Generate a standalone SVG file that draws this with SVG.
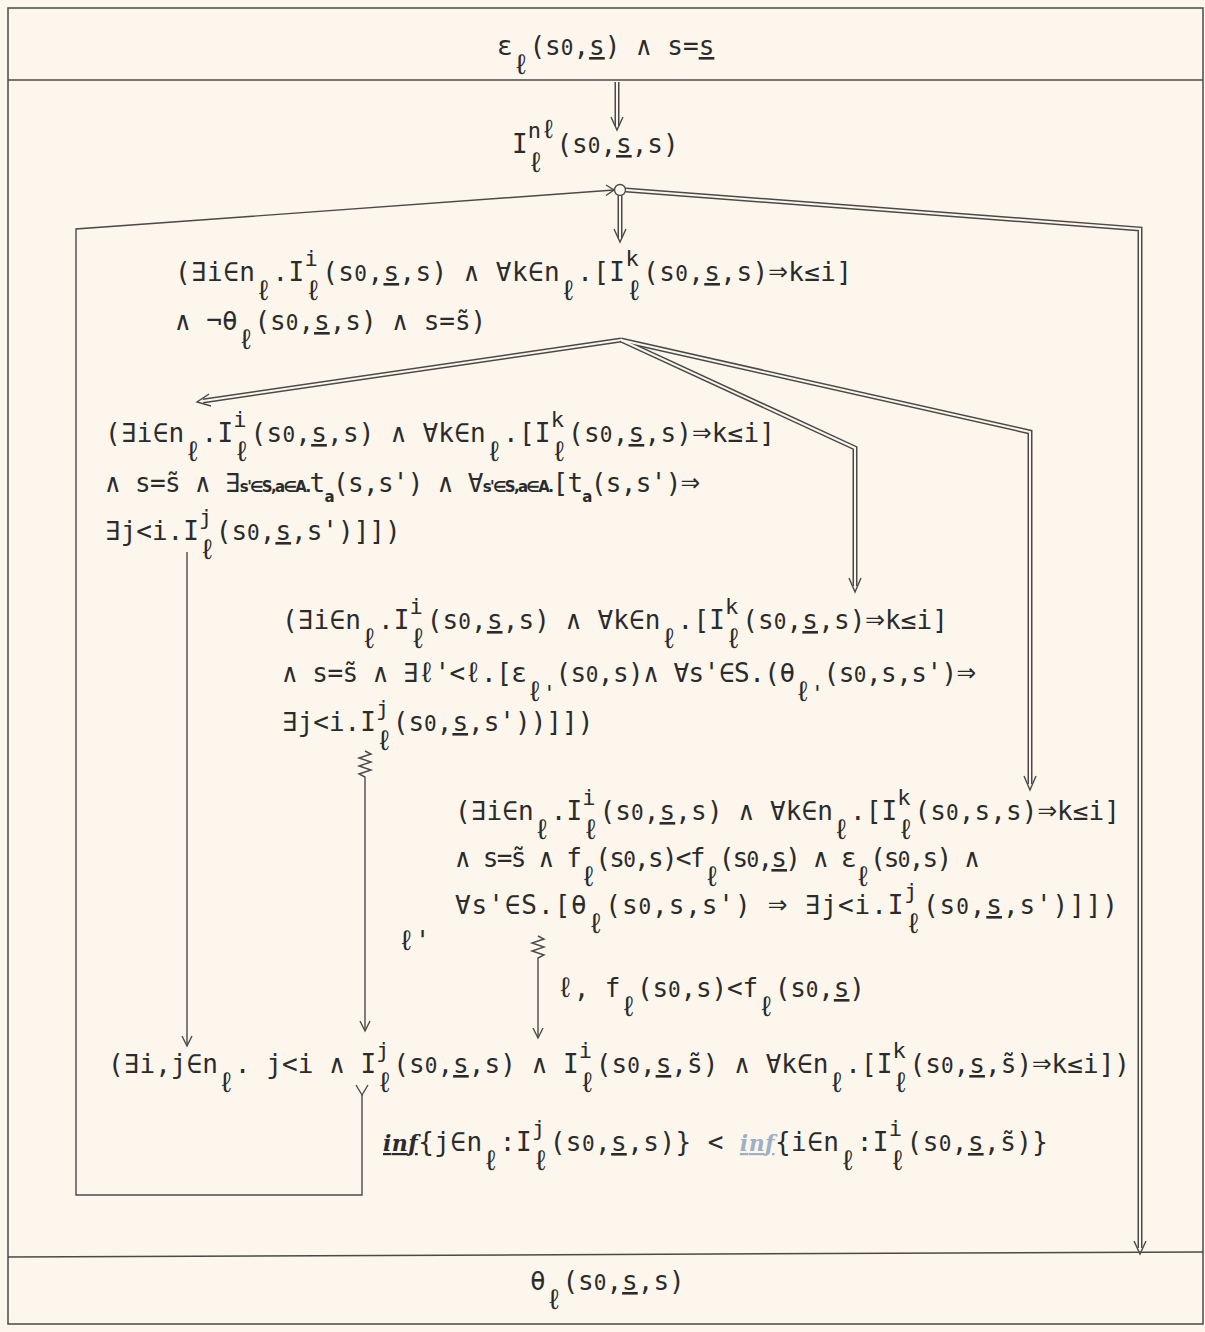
<svg xmlns="http://www.w3.org/2000/svg" width="1205" height="1332" viewBox="0 0 1205 1332">
<style>
.t{font-family:"DejaVu Sans Mono","Liberation Mono",monospace;font-size:26px;fill:#2b2b2b}
.s{font-size:22px}
.l{font-size:28px}
.z{font-size:21px}
.ar{font-size:32px}
.u{text-decoration:underline}
.h{font-family:"DejaVu Sans",sans-serif;font-weight:bold;font-size:15px;letter-spacing:-1px}
.h2{font-family:"DejaVu Serif",serif;font-style:italic;font-weight:bold;font-size:22px;text-decoration:underline}
.f{fill:#9db0c4}
.ln{fill:none;stroke:#4a4a4a;stroke-width:1.4}
.dbo{fill:none;stroke:#4a4a4a;stroke-width:5;stroke-linejoin:miter}
.dbi{fill:none;stroke:#fcf6ec;stroke-width:2;stroke-linejoin:miter}
.hd{fill:none;stroke:#4a4a4a;stroke-width:1.4;stroke-linejoin:miter}
</style>
<rect width="1205" height="1332" fill="#fcf6ec"/>
<g id="frame">
<rect x="8" y="8" width="1195" height="1316" fill="none" stroke="#4a4a4a" stroke-width="1.5"/>
<line x1="8" y1="80" x2="1203" y2="80" stroke="#4a4a4a" stroke-width="1.5"/>
<line x1="8" y1="1257" x2="1203" y2="1252" stroke="#4a4a4a" stroke-width="1.5"/>
</g>
<g id="connectors">
<path class="dbo" d="M617,82 V126"/><path class="dbi" d="M617,82 V126"/>
<path class="hd" d="M611,117 L617,130 L623,117"/>
<circle cx="620" cy="190" r="5.5" fill="#fcf6ec" stroke="#4a4a4a" stroke-width="1.4"/>
<polyline class="ln" points="614,190 76,229 76,1195 362,1195 362,1095"/>
<path class="hd" d="M606,185 L614,190 L606,195.5"/>
<path class="hd" d="M356,1085 L362,1095 L368,1085"/>
<polyline class="dbo" points="626,190 1140,229 1140,1248"/><polyline class="dbi" points="626,190 1140,229 1140,1248"/>
<path class="hd" d="M1134,1241 L1140,1254 L1146,1241"/>
<path class="dbo" d="M620,196 V238"/><path class="dbi" d="M620,196 V238"/>
<path class="hd" d="M614,229 L620,242 L626,229"/>
<polyline class="dbo" points="621,340 203,401"/><polyline class="dbi" points="621,340 203,401"/>
<path class="hd" d="M209,394 L197,402 L211,406"/>
<polyline class="dbo" points="621,340 855,448 855,586"/>
<polyline class="dbo" points="621,340 1030,432 1030,784"/>
<polyline class="dbi" points="621,340 855,448 855,586"/>
<polyline class="dbi" points="621,340 1030,432 1030,784"/>
<path class="hd" d="M849,578 L855,592 L861,578"/>
<path class="hd" d="M1024,776 L1030,790 L1036,776"/>
<path class="ln" d="M187,552 V1045"/>
<path class="hd" d="M182,1036 L187,1046 L192,1036"/>
<path class="ln" d="M365,751 l6,3 l-12,4 l12,4 l-12,4 l12,4 l-12,4 l6,3 V1030"/>
<path class="hd" d="M360,1021 L365,1031 L370,1021"/>
<path class="ln" d="M538,936 l6,3 l-12,4 l12,4 l-12,4 l12,4 l-6,3 V1037"/>
<path class="hd" d="M533,1028 L538,1038 L543,1028"/>
<text class="t" x="398" y="950"><tspan class="l">ℓ</tspan>'</text>
<text class="t" x="557" y="997" textLength="308" lengthAdjust="spacing"><tspan class="l">ℓ</tspan>, f<tspan class="l" dy="19">ℓ</tspan><tspan dy="-19">(s<tspan class="z">0</tspan>,s)&lt;f</tspan><tspan class="l" dy="19">ℓ</tspan><tspan dy="-19">(s<tspan class="z">0</tspan>,<tspan class="u">s</tspan>)</tspan></text>
<text class="t" x="383" y="1151" textLength="665" lengthAdjust="spacing"><tspan class="h2">inf</tspan>{j∈n<tspan class="l" dy="19">ℓ</tspan><tspan dy="-19">:I</tspan><tspan class="s" dy="-15">j</tspan><tspan class="l" dx="-13.2" dy="34">ℓ</tspan><tspan dy="-19">(s<tspan class="z">0</tspan>,<tspan class="u">s</tspan>,s)} &lt; <tspan class="h2 f">inf</tspan>{i∈n</tspan><tspan class="l" dy="19">ℓ</tspan><tspan dy="-19">:I</tspan><tspan class="s" dy="-15">i</tspan><tspan class="l" dx="-13.2" dy="34">ℓ</tspan><tspan dy="-19">(s<tspan class="z">0</tspan>,<tspan class="u">s</tspan>,s̃)}</tspan></text>
</g>
<g id="n-start">
<text class="t" x="497" y="55">ε<tspan class="l" dy="19">ℓ</tspan><tspan dy="-19">(s<tspan class="z">0</tspan>,<tspan class="u">s</tspan>) ∧ s=<tspan class="u">s</tspan></tspan></text>
</g>
<g id="n-invariant">
<text class="t" x="512" y="153">I<tspan class="s" dy="-15">n</tspan><tspan style="font-size:26px">ℓ</tspan><tspan class="l" dx="-28.9" dy="34">ℓ</tspan><tspan dy="-19" dx="12">(s<tspan class="z">0</tspan>,<tspan class="u">s</tspan>,s)</tspan></text>
</g>
<g id="n-f1">
<text class="t" x="175" y="281" textLength="677" lengthAdjust="spacing">(∃i∈n<tspan class="l" dy="19">ℓ</tspan><tspan dy="-19">.I</tspan><tspan class="s" dy="-15">i</tspan><tspan class="l" dx="-13.2" dy="34">ℓ</tspan><tspan dy="-19">(s<tspan class="z">0</tspan>,<tspan class="u">s</tspan>,s) ∧ ∀k∈n</tspan><tspan class="l" dy="19">ℓ</tspan><tspan dy="-19">.[I</tspan><tspan class="s" dy="-15">k</tspan><tspan class="l" dx="-13.2" dy="34">ℓ</tspan><tspan dy="-19">(s<tspan class="z">0</tspan>,<tspan class="u">s</tspan>,s)<tspan class="ar">⇒</tspan>k≤i]</tspan></text>
<text class="t" x="175" y="330">∧ ¬θ<tspan class="l" dy="19">ℓ</tspan><tspan dy="-19">(s<tspan class="z">0</tspan>,<tspan class="u">s</tspan>,s) ∧ s=s̃)</tspan></text>
</g>
<g id="n-f2">
<text class="t" x="105" y="442" textLength="670" lengthAdjust="spacing">(∃i∈n<tspan class="l" dy="19">ℓ</tspan><tspan dy="-19">.I</tspan><tspan class="s" dy="-15">i</tspan><tspan class="l" dx="-13.2" dy="34">ℓ</tspan><tspan dy="-19">(s<tspan class="z">0</tspan>,<tspan class="u">s</tspan>,s) ∧ ∀k∈n</tspan><tspan class="l" dy="19">ℓ</tspan><tspan dy="-19">.[I</tspan><tspan class="s" dy="-15">k</tspan><tspan class="l" dx="-13.2" dy="34">ℓ</tspan><tspan dy="-19">(s<tspan class="z">0</tspan>,<tspan class="u">s</tspan>,s)<tspan class="ar">⇒</tspan>k≤i]</tspan></text>
<text class="t" x="105" y="492" textLength="595" lengthAdjust="spacing">∧ s=s̃ ∧ ∃<tspan class="h">s'∈S,a∈A.</tspan>t<tspan class="h" dy="10">a</tspan><tspan dy="-10">(s,s') ∧ ∀</tspan><tspan class="h">s'∈S,a∈A.</tspan>[t<tspan class="h" dy="10">a</tspan><tspan dy="-10">(s,s')<tspan class="ar">⇒</tspan></tspan></text>
<text class="t" x="105" y="540">∃j&lt;i.I<tspan class="s" dy="-15">j</tspan><tspan class="l" dx="-13.2" dy="34">ℓ</tspan><tspan dy="-19">(s<tspan class="z">0</tspan>,<tspan class="u">s</tspan>,s')]])</tspan></text>
</g>
<g id="n-f3">
<text class="t" x="282" y="629" textLength="666" lengthAdjust="spacing">(∃i∈n<tspan class="l" dy="19">ℓ</tspan><tspan dy="-19">.I</tspan><tspan class="s" dy="-15">i</tspan><tspan class="l" dx="-13.2" dy="34">ℓ</tspan><tspan dy="-19">(s<tspan class="z">0</tspan>,<tspan class="u">s</tspan>,s) ∧ ∀k∈n</tspan><tspan class="l" dy="19">ℓ</tspan><tspan dy="-19">.[I</tspan><tspan class="s" dy="-15">k</tspan><tspan class="l" dx="-13.2" dy="34">ℓ</tspan><tspan dy="-19">(s<tspan class="z">0</tspan>,<tspan class="u">s</tspan>,s)<tspan class="ar">⇒</tspan>k≤i]</tspan></text>
<text class="t" x="282" y="682" textLength="694" lengthAdjust="spacing">∧ s=s̃ ∧ ∃<tspan class="l">ℓ</tspan>'&lt;<tspan class="l">ℓ</tspan>.[ε<tspan class="l" dy="19">ℓ</tspan><tspan class="s">'</tspan><tspan dy="-19">(s<tspan class="z">0</tspan>,s)∧ ∀s'∈S.(θ</tspan><tspan class="l" dy="19">ℓ</tspan><tspan class="s">'</tspan><tspan dy="-19">(s<tspan class="z">0</tspan>,s,s')<tspan class="ar">⇒</tspan></tspan></text>
<text class="t" x="282" y="731">∃j&lt;i.I<tspan class="s" dy="-15">j</tspan><tspan class="l" dx="-13.2" dy="34">ℓ</tspan><tspan dy="-19">(s<tspan class="z">0</tspan>,<tspan class="u">s</tspan>,s'))]])</tspan></text>
</g>
<g id="n-f4">
<text class="t" x="455" y="820" textLength="665" lengthAdjust="spacing">(∃i∈n<tspan class="l" dy="19">ℓ</tspan><tspan dy="-19">.I</tspan><tspan class="s" dy="-15">i</tspan><tspan class="l" dx="-13.2" dy="34">ℓ</tspan><tspan dy="-19">(s<tspan class="z">0</tspan>,<tspan class="u">s</tspan>,s) ∧ ∀k∈n</tspan><tspan class="l" dy="19">ℓ</tspan><tspan dy="-19">.[I</tspan><tspan class="s" dy="-15">k</tspan><tspan class="l" dx="-13.2" dy="34">ℓ</tspan><tspan dy="-19">(s<tspan class="z">0</tspan>,s,s)<tspan class="ar">⇒</tspan>k≤i]</tspan></text>
<text class="t" x="455" y="867" textLength="525" lengthAdjust="spacing">∧ s=s̃ ∧ f<tspan class="l" dy="19">ℓ</tspan><tspan dy="-19">(s<tspan class="z">0</tspan>,s)&lt;f</tspan><tspan class="l" dy="19">ℓ</tspan><tspan dy="-19">(s<tspan class="z">0</tspan>,<tspan class="u">s</tspan>) ∧ ε</tspan><tspan class="l" dy="19">ℓ</tspan><tspan dy="-19">(s<tspan class="z">0</tspan>,s) ∧</tspan></text>
<text class="t" x="455" y="914" textLength="663" lengthAdjust="spacing">∀s'∈S.[θ<tspan class="l" dy="19">ℓ</tspan><tspan dy="-19">(s<tspan class="z">0</tspan>,s,s') <tspan class="ar">⇒</tspan> ∃j&lt;i.I</tspan><tspan class="s" dy="-15">j</tspan><tspan class="l" dx="-13.2" dy="34">ℓ</tspan><tspan dy="-19">(s<tspan class="z">0</tspan>,<tspan class="u">s</tspan>,s')]])</tspan></text>
</g>
<g id="n-f5">
<text class="t" x="108" y="1073" textLength="1022" lengthAdjust="spacing">(∃i,j∈n<tspan class="l" dy="19">ℓ</tspan><tspan dy="-19">. j&lt;i ∧ I</tspan><tspan class="s" dy="-15">j</tspan><tspan class="l" dx="-13.2" dy="34">ℓ</tspan><tspan dy="-19">(s<tspan class="z">0</tspan>,<tspan class="u">s</tspan>,s) ∧ I</tspan><tspan class="s" dy="-15">i</tspan><tspan class="l" dx="-13.2" dy="34">ℓ</tspan><tspan dy="-19">(s<tspan class="z">0</tspan>,<tspan class="u">s</tspan>,s̃) ∧ ∀k∈n</tspan><tspan class="l" dy="19">ℓ</tspan><tspan dy="-19">.[I</tspan><tspan class="s" dy="-15">k</tspan><tspan class="l" dx="-13.2" dy="34">ℓ</tspan><tspan dy="-19">(s<tspan class="z">0</tspan>,<tspan class="u">s</tspan>,s̃)<tspan class="ar">⇒</tspan>k≤i])</tspan></text>
</g>
<g id="n-end">
<text class="t" x="530" y="1290">θ<tspan class="l" dy="19">ℓ</tspan><tspan dy="-19">(s<tspan class="z">0</tspan>,<tspan class="u">s</tspan>,s)</tspan></text>
</g>
</svg>
